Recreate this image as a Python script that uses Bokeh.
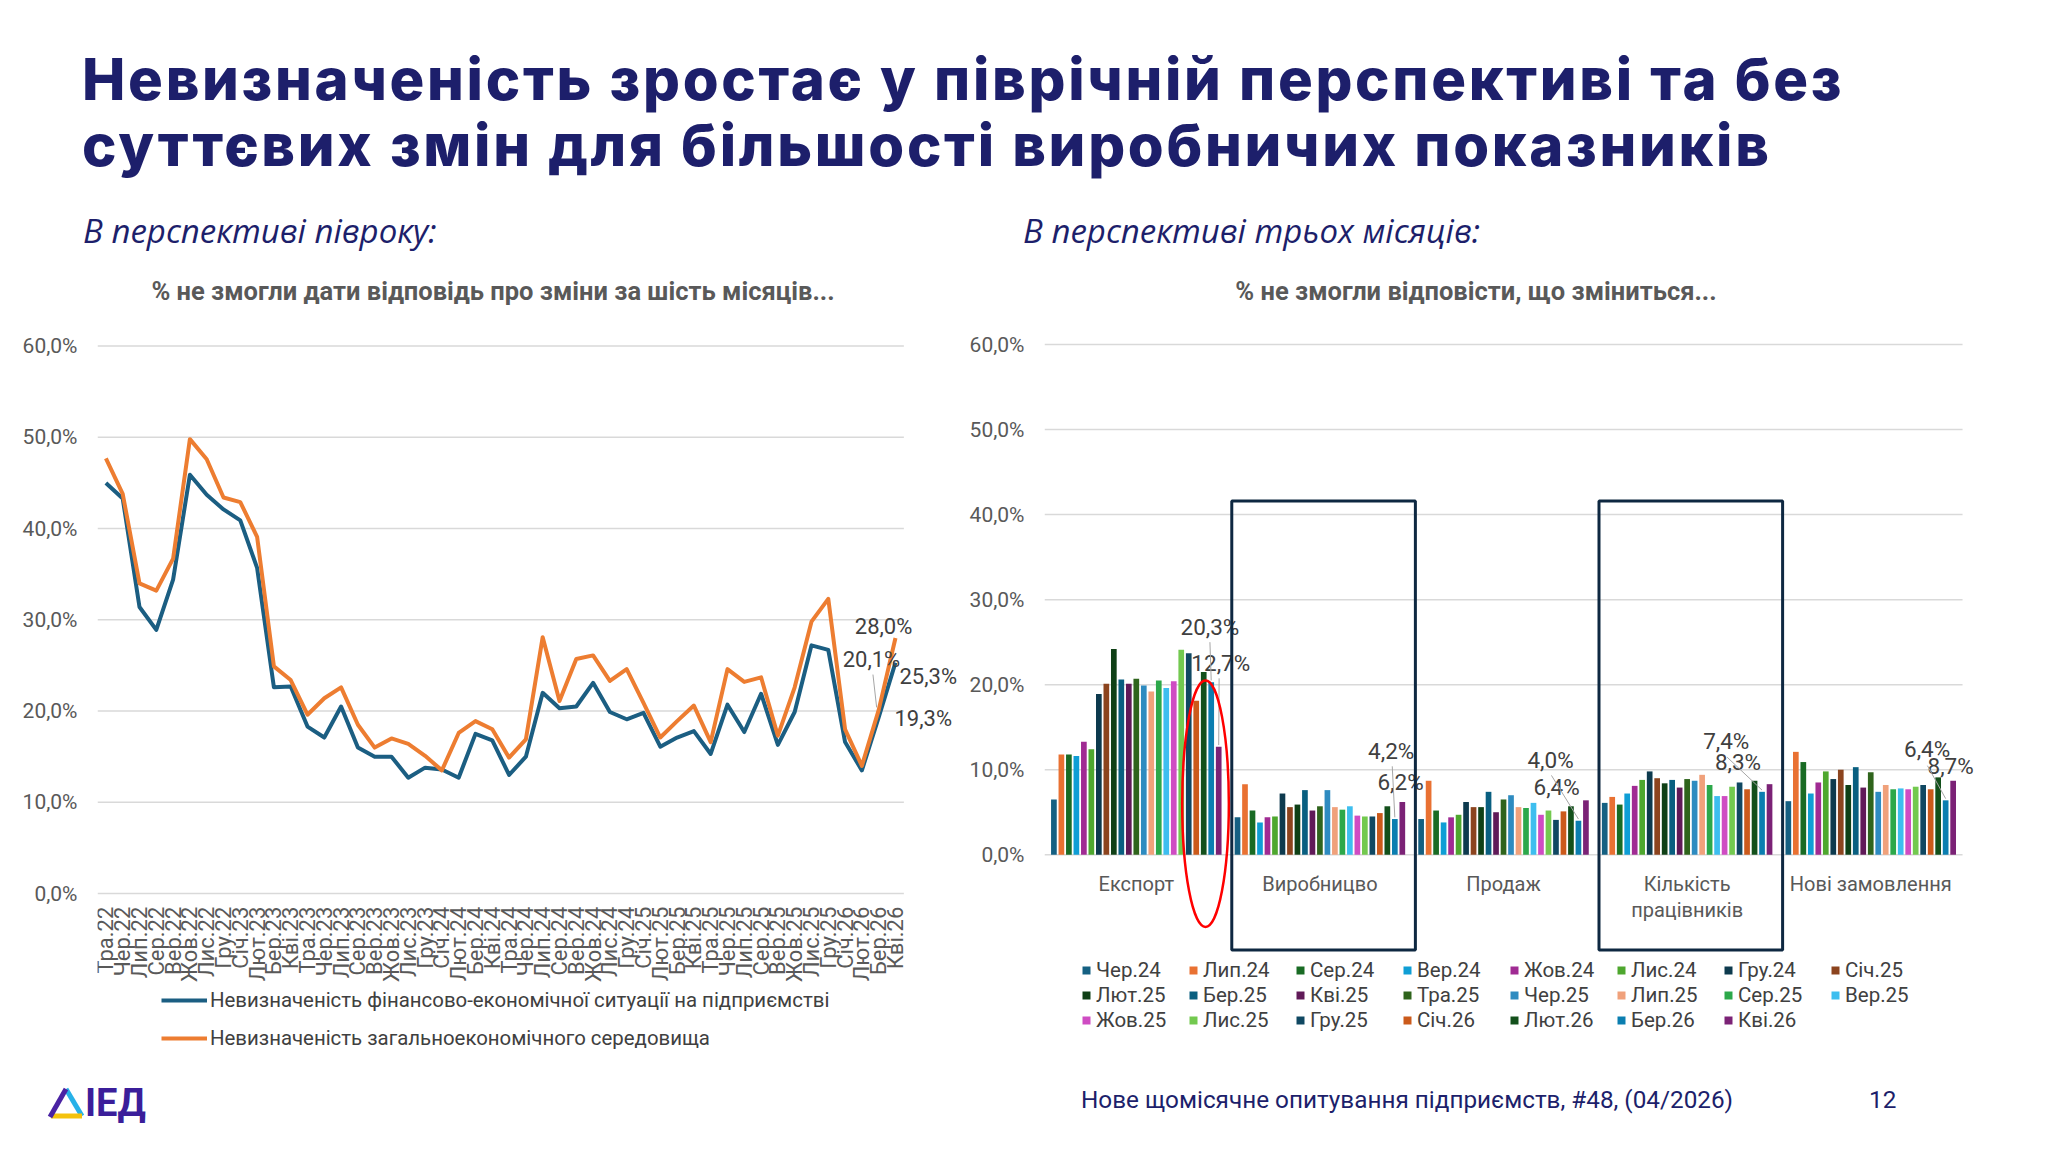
import math

from bokeh.core.properties import value
from bokeh.embed import file_html
from bokeh.layouts import column, row
from bokeh.models import ColumnDataSource, Div, FixedTicker, Range1d
from bokeh.plotting import figure
from bokeh.resources import INLINE

NAVY = "#1d1f6b"
AXIS_GREY = "#595959"
LABEL_GREY = "#404040"
GRID = "#d9d9d9"
FONT = "Roboto"

# ---- texts
title_lines = ["Невизначеність зростає у піврічній перспективі та без",
               "суттєвих змін для більшості виробничих показників"]
left_subtitle = "В перспективі півроку:"
right_subtitle = "В перспективі трьох місяців:"
left_chart_title = "% не змогли дати відповідь про зміни за шість місяців..."
right_chart_title = "% не змогли відповісти, що зміниться..."
footer_text = "Нове щомісячне опитування підприємств, #48, (04/2026)"
page_number = "12"

# ---- left chart: monthly series, %
months = ["Тра.22", "Чер.22", "Лип.22", "Сер.22", "Вер.22", "Жов.22", "Лис.22", "Гру.22",
          "Січ.23", "Лют.23", "Бер.23", "Кві.23", "Тра.23", "Чер.23", "Лип.23", "Сер.23",
          "Вер.23", "Жов.23", "Лис.23", "Гру.23", "Січ.24", "Лют.24", "Бер.24", "Кві.24",
          "Тра.24", "Чер.24", "Лип.24", "Сер.24", "Вер.24", "Жов.24", "Лис.24", "Гру.24",
          "Січ.25", "Лют.25", "Бер.25", "Кві.25", "Тра.25", "Чер.25", "Лип.25", "Сер.25",
          "Вер.25", "Жов.25", "Лис.25", "Гру.25", "Січ.26", "Лют.26", "Бер.26", "Кві.26"]
fin_uncertainty = [45.0, 43.3, 31.4, 28.9, 34.4, 45.9, 43.7, 42.1, 40.9, 35.7,
                   22.6, 22.7, 18.3, 17.1, 20.5, 16.0, 15.0, 15.0, 12.7, 13.8,
                   13.6, 12.7, 17.5, 16.8, 13.0, 15.0, 22.0, 20.3, 20.5, 23.1,
                   19.9, 19.1, 19.8, 16.1, 17.1, 17.8, 15.3, 20.7, 17.7, 21.9,
                   16.3, 19.9, 27.2, 26.7, 16.6, 13.5, 19.3, 25.3]
gen_uncertainty = [47.7, 43.8, 34.0, 33.2, 36.7, 49.8, 47.6, 43.4, 42.9, 39.1,
                   24.9, 23.4, 19.6, 21.4, 22.6, 18.5, 16.0, 17.0, 16.4, 15.1,
                   13.5, 17.6, 18.9, 18.0, 14.9, 16.9, 28.1, 21.1, 25.7, 26.1,
                   23.3, 24.6, 20.9, 17.1, 18.9, 20.6, 16.6, 24.6, 23.2, 23.7,
                   17.3, 22.6, 29.8, 32.3, 18.0, 14.0, 20.1, 28.0]
fin_name = "Невизначеність фінансово-економічної ситуації на підприємстві"
gen_name = "Невизначеність загальноекономічного середовища"

# ---- right chart: one value per survey month (Чер.24 .. Кві.26) for each indicator, %
survey_months = months[25:]
categories = ["Експорт", "Виробницво", "Продаж", "Кількість\nпрацівників", "Нові замовлення"]
export = [6.5, 11.8, 11.8, 11.6, 13.3, 12.4, 18.9, 20.1, 24.2, 20.6, 20.1, 20.7,
          19.9, 19.2, 20.5, 19.6, 20.4, 24.1, 23.7, 18.1, 21.5, 20.3, 12.7]
production = [4.4, 8.3, 5.2, 3.8, 4.4, 4.5, 7.2, 5.6, 5.9, 7.6, 5.2, 5.7,
              7.6, 5.6, 5.3, 5.7, 4.6, 4.5, 4.5, 4.9, 5.7, 4.2, 6.2]
sales = [4.2, 8.7, 5.2, 3.8, 4.4, 4.7, 6.2, 5.6, 5.6, 7.4, 5.0, 6.5,
         7.0, 5.6, 5.5, 6.1, 4.7, 5.2, 4.1, 5.1, 5.7, 4.0, 6.4]
employees = [6.1, 6.8, 5.9, 7.2, 8.1, 8.8, 9.8, 9.0, 8.4, 8.8, 7.9, 8.9,
             8.7, 9.4, 8.2, 6.9, 6.9, 8.0, 8.5, 7.7, 8.7, 7.4, 8.3]
new_orders = [6.3, 12.1, 10.9, 7.2, 8.5, 9.8, 8.9, 10.0, 8.2, 10.3, 7.9, 9.7,
              7.4, 8.2, 7.7, 7.8, 7.7, 8.0, 8.2, 7.7, 9.1, 6.4, 8.7]
cat_values = [export, production, sales, employees, new_orders]
highlighted = [1, 3]   # categories framed by a box

y_ticks = [0, 10, 20, 30, 40, 50, 60]
y_tick_labels = ["0,0%", "10,0%", "20,0%", "30,0%", "40,0%", "50,0%", "60,0%"]

bar_colors = ["#156082", "#E97132", "#196B24", "#0F9ED5", "#A02B93", "#4EA72E",
              "#0D3A4E", "#8C441E", "#0F4016", "#095F80", "#601A58", "#2F641C",
              "#2E8BC0", "#F0A17B", "#2CA84A", "#3DBEEF", "#CF4CC3", "#73C94F",
              "#104862", "#CB5A1B", "#13501B", "#0B7EB0", "#7B2276"]


def pct(v):
    return f"{v:.1f}%".replace(".", ",")


def style_y_axis(p):
    p.yaxis.ticker = FixedTicker(ticks=y_ticks)
    p.yaxis.major_label_overrides = dict(zip(y_ticks, y_tick_labels))
    p.yaxis.axis_line_color = None
    p.yaxis.major_tick_line_color = None
    p.yaxis.minor_tick_line_color = None
    p.yaxis.major_tick_out = 0
    p.yaxis.major_tick_in = 0
    p.yaxis.minor_tick_out = 0
    p.yaxis.major_label_standoff = 20
    p.yaxis.major_label_text_font = FONT
    p.yaxis.major_label_text_font_size = "21px"
    p.yaxis.major_label_text_color = AXIS_GREY
    p.xgrid.visible = False
    p.ygrid.visible = False
    p.outline_line_color = None


# ================= left: line chart
left = figure(width=962, height=759, title=None, x_axis_location=None,
              x_range=Range1d(-0.5, 50.99), y_range=Range1d(-19.5, 60.83),
              min_border_left=97, min_border_right=0, min_border_top=11, min_border_bottom=10,
              toolbar_location=None, output_backend="svg")
style_y_axis(left)
n = len(months)
left.segment(x0=-0.5, x1=n - 0.5, y0=y_ticks, y1=y_ticks, line_color=GRID, line_width=1.5)

lsrc = ColumnDataSource(dict(x=list(range(n)), fin=fin_uncertainty, gen=gen_uncertainty,
                             month=months))
left.line("x", "fin", source=lsrc, line_color="#1b5e82", line_width=4, line_join="round",
          legend_label=fin_name)
left.line("x", "gen", source=lsrc, line_color="#ED7D31", line_width=4, line_join="round",
          legend_label=gen_name)

left.text(x="x", y=-1.44, text="month", source=lsrc, angle=math.pi / 2,
          text_align="right", text_baseline="middle", text_font=value(FONT),
          text_font_size="22px", text_color=AXIS_GREY)

# end-point labels (positions as placed in the source slide)
left.text(x=[46.29, 45.57], y=[29.3, 25.66], text=[pct(gen_uncertainty[-1]), pct(gen_uncertainty[-2])],
          text_align="center", text_baseline="middle", text_font=value(FONT),
          text_font_size="22px", text_color=LABEL_GREY)
left.text(x=[47.24, 46.94], y=[23.8, 19.2], text=[pct(fin_uncertainty[-1]), pct(fin_uncertainty[-2])],
          text_align="left", text_baseline="middle", text_font=value(FONT),
          text_font_size="22px", text_color=LABEL_GREY)
left.segment(x0=[45.66], y0=[24.0], x1=[45.88], y1=[gen_uncertainty[-2] + 0.3],
             line_color="#a6a6a6", line_width=1)

lleg = left.legend[0]
lleg.location = (64, 14)
lleg.glyph_width = 46
lleg.glyph_height = 20
lleg.label_standoff = 3
lleg.label_height = 38
lleg.spacing = 0
lleg.padding = 0
lleg.margin = 0
lleg.border_line_color = None
lleg.background_fill_alpha = 0
lleg.label_text_font = FONT
lleg.label_text_font_size = "20.4px"
lleg.label_text_color = LABEL_GREY

# ================= right: grouped bars
right = figure(width=1070, height=759, title=None, x_axis_location=None,
               x_range=Range1d(0, 5.381), y_range=Range1d(-25.49, 60.71),
               min_border_left=82, min_border_right=0, min_border_top=16, min_border_bottom=10,
               toolbar_location=None, output_backend="svg")
style_y_axis(right)
n_cat = len(categories)
right.segment(x0=0, x1=n_cat, y0=y_ticks, y1=y_ticks, line_color=GRID, line_width=1.5)

n_series = len(survey_months)
pitch = 0.0408
bar_w = 0.031


def bar_x(k, j):
    return k + 0.5 + (j - (n_series - 1) / 2) * pitch


for j, (m, c) in enumerate(zip(survey_months, bar_colors)):
    src = ColumnDataSource(dict(x=[bar_x(k, j) for k in range(n_cat)],
                                top=[vals[j] for vals in cat_values]))
    right.vbar(x="x", top="top", width=bar_w, bottom=0, source=src,
               fill_color=c, line_color=None, legend_label=m)

right.text(x=[k + 0.5 for k in range(n_cat)], y=-2.0, text=categories,
           text_align="center", text_baseline="top", text_font=value(FONT),
           text_font_size="20px", text_color=AXIS_GREY, text_line_height=1.1)

# data labels for the last two months, placed as on the slide
lab_a = dict(x=[0.901, 1.888, 2.756, 3.713, 4.807], y=[26.8, 12.25, 11.1, 13.4, 12.4])
lab_b = dict(x=[0.960, 1.939, 2.789, 3.777, 4.935], y=[22.6, 8.6, 7.95, 10.9, 10.4])
lead_a = dict(x=[0.901, 1.894, 2.761, 3.718, 4.809], y=[25.0, 10.4, 9.33, 11.47, 10.47])
right.text(x=lab_a["x"], y=lab_a["y"], text=[pct(v[-2]) for v in cat_values],
           text_align="center", text_baseline="middle", text_font=value(FONT),
           text_font_size="22.5px", text_color=LABEL_GREY)
right.text(x=lab_b["x"], y=lab_b["y"], text=[pct(v[-1]) for v in cat_values],
           text_align="center", text_baseline="middle", text_font=value(FONT),
           text_font_size="22.5px", text_color=LABEL_GREY)
right.segment(x0=lead_a["x"], y0=lead_a["y"],
              x1=[bar_x(k, n_series - 2) for k in range(n_cat)],
              y1=[v[-2] + 0.2 for v in cat_values], line_color="#a6a6a6", line_width=1)
right.segment(x0=[0.951], y0=[20.75], x1=[bar_x(0, n_series - 1)], y1=[export[-1] + 0.2],
              line_color="#a6a6a6", line_width=1)

# framed categories and red oval around the latest export bars
right.quad(left=[k + 0.02 for k in highlighted], right=[k + 1.02 for k in highlighted],
           top=41.6, bottom=-11.2, fill_alpha=0, line_color="#0e2841", line_width=3)
right.ellipse(x=[0.877], y=[6.0], width=0.254, height=29.0, fill_alpha=0,
              line_color="#ff0000", line_width=2.5)

rleg = right.legend[0]
rleg.orientation = "horizontal"
rleg.ncols = 8
rleg.location = (37, 39)
rleg.glyph_width = 10
rleg.glyph_height = 10
rleg.label_standoff = 5
rleg.label_width = 92
rleg.label_height = 25
rleg.spacing = 0
rleg.padding = 0
rleg.margin = 0
rleg.border_line_color = None
rleg.background_fill_alpha = 0
rleg.label_text_font = FONT
rleg.label_text_font_size = "20.5px"
rleg.label_text_color = LABEL_GREY

# ================= header / footer
header = Div(width=2032, height=322, margin=0, text=f"""
<div style="position:relative;width:2032px;height:322px;">
 <div style="position:absolute;left:82px;top:46px;font-family:Inter;font-weight:800;font-size:58px;letter-spacing:2.7px;line-height:66px;color:{NAVY};white-space:nowrap;">{title_lines[0]}<br>{title_lines[1]}</div>
 <div style="position:absolute;left:83px;top:211px;font-family:'Open Sans';font-style:italic;font-size:33px;line-height:40px;color:{NAVY};white-space:nowrap;">{left_subtitle}</div>
 <div style="position:absolute;left:1023px;top:211px;font-family:'Open Sans';font-style:italic;font-size:33px;line-height:40px;color:{NAVY};white-space:nowrap;">{right_subtitle}</div>
 <div style="position:absolute;left:93px;width:800px;top:276px;text-align:center;font-family:Roboto;font-weight:bold;font-size:25.5px;line-height:30px;color:{AXIS_GREY};white-space:nowrap;">{left_chart_title}</div>
 <div style="position:absolute;left:1076px;width:800px;top:276px;text-align:center;font-family:Roboto;font-weight:bold;font-size:25.5px;line-height:30px;color:{AXIS_GREY};white-space:nowrap;">{right_chart_title}</div>
</div>""")

footer = Div(width=2032, height=55, margin=0, text=f"""
<div style="position:relative;width:2032px;height:55px;">
 <svg style="position:absolute;left:47px;top:5px" width="38" height="34" viewBox="0 0 38 34">
  <line x1="19" y1="3" x2="35" y2="30" stroke="#27b1e8" stroke-width="5"/>
  <line x1="4" y1="30" x2="35" y2="30" stroke="#f4c20d" stroke-width="5"/>
  <line x1="19" y1="3" x2="3" y2="31" stroke="#4a23a3" stroke-width="5"/>
 </svg>
 <div style="position:absolute;left:85px;top:3px;font-family:Roboto;font-weight:bold;font-size:38px;line-height:38px;color:#3b1e9a;">ІЕД</div>
 <div style="position:absolute;left:1081px;top:5px;font-family:Roboto;font-size:24.3px;line-height:28px;color:{NAVY};white-space:nowrap;">{footer_text}</div>
 <div style="position:absolute;left:1869px;top:5px;font-family:Roboto;font-size:24.3px;line-height:28px;color:{NAVY};">{page_number}</div>
</div>""")

page = column(header, row(left, right), footer)
open("out.html", "w").write(file_html(page, INLINE))
